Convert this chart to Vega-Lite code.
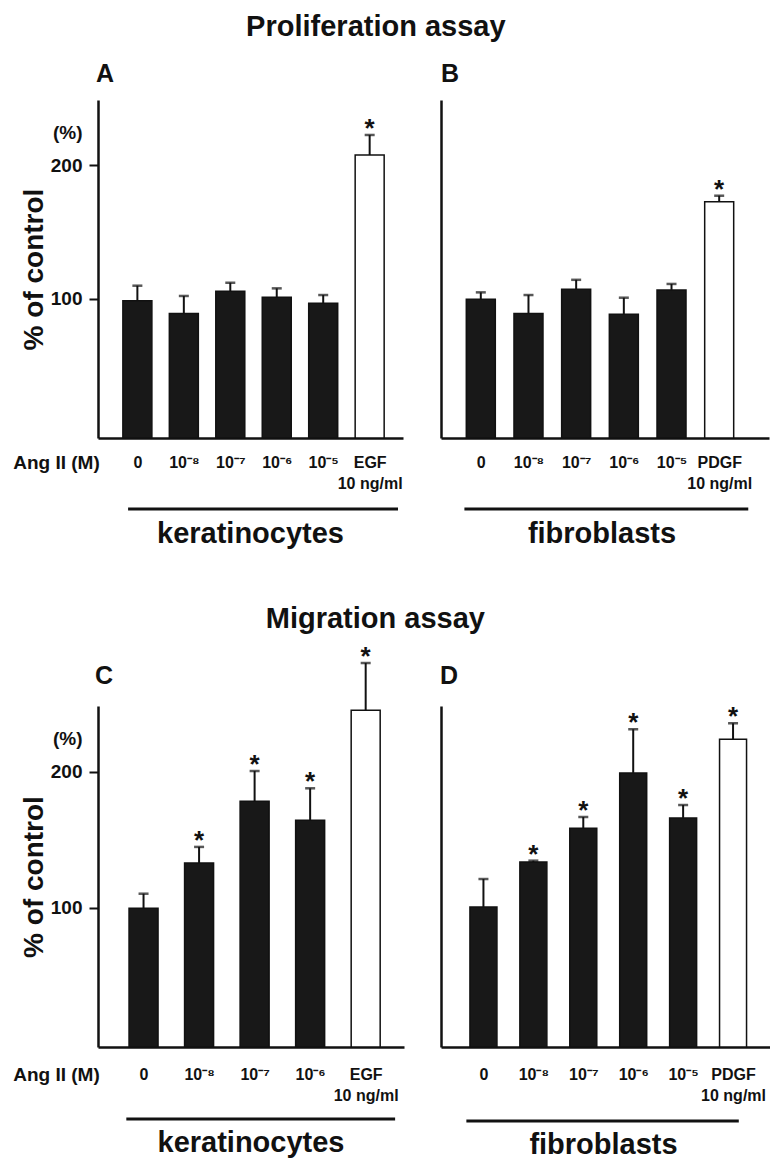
{
  "$schema": "https://vega.github.io/schema/vega-lite/v6.json",
  "padding": {"left": 12, "top": 12, "right": 0, "bottom": 0},
  "spacing": 56,
  "config": {
    "font": "Liberation Sans",
    "view": {"stroke": null},
    "axis": {"domainColor": "#111", "tickColor": "#111", "labelColor": "#111", "titleColor": "#111", "grid": false},
    "title": {"color": "#111"}
  },
  "datasets": {
    "A": [
      {"idx": 1, "value": 98.4, "err": 109.6, "kind": "dark", "star": ""},
      {"idx": 2, "value": 88.7, "err": 101.9, "kind": "dark", "star": ""},
      {"idx": 3, "value": 105.4, "err": 111.8, "kind": "dark", "star": ""},
      {"idx": 4, "value": 100.9, "err": 107.6, "kind": "dark", "star": ""},
      {"idx": 5, "value": 96.4, "err": 102.6, "kind": "dark", "star": ""},
      {"idx": 6, "value": 207.5, "err": 222.5, "kind": "open", "star": "*"}
    ],
    "B": [
      {"idx": 1, "value": 99.5, "err": 104.6, "kind": "dark", "star": ""},
      {"idx": 2, "value": 88.7, "err": 102.6, "kind": "dark", "star": ""},
      {"idx": 3, "value": 106.9, "err": 114.0, "kind": "dark", "star": ""},
      {"idx": 4, "value": 88.2, "err": 100.6, "kind": "dark", "star": ""},
      {"idx": 5, "value": 106.4, "err": 110.9, "kind": "dark", "star": ""},
      {"idx": 6, "value": 172.5, "err": 177.0, "kind": "open", "star": "*"}
    ],
    "C": [
      {"idx": 1, "value": 99.8, "err": 110.5, "kind": "dark", "star": ""},
      {"idx": 2, "value": 133.1, "err": 144.9, "kind": "dark", "star": "*"},
      {"idx": 3, "value": 178.5, "err": 200.7, "kind": "dark", "star": "*"},
      {"idx": 4, "value": 164.5, "err": 188.0, "kind": "dark", "star": "*"},
      {"idx": 5, "value": 245.4, "err": 280.1, "kind": "open", "star": "*"}
    ],
    "D": [
      {"idx": 1, "value": 100.7, "err": 121.3, "kind": "dark", "star": ""},
      {"idx": 2, "value": 133.8, "err": 134.8, "kind": "dark", "star": "*"},
      {"idx": 3, "value": 158.6, "err": 166.9, "kind": "dark", "star": "*"},
      {"idx": 4, "value": 199.3, "err": 231.4, "kind": "dark", "star": "*"},
      {"idx": 5, "value": 166.2, "err": 175.7, "kind": "dark", "star": "*"},
      {"idx": 6, "value": 224.0, "err": 235.8, "kind": "open", "star": "*"}
    ]
  },
  "vconcat": [
    {
      "title": {"text": "Proliferation assay", "fontSize": 29, "fontWeight": "bold", "anchor": "middle", "dx": -15, "offset": 20},
      "bounds": "flush",
      "spacing": 38,
      "hconcat": [
        {
          "width": 305, "height": 338,
          "title": {"text": "keratinocytes", "orient": "bottom", "frame": "group", "anchor": "middle", "offset": 9, "fontSize": 29, "fontWeight": "bold"},
          "layer": [
            {
              "data": {"name": "A"},
              "mark": {"type": "bar", "width": 29, "stroke": "#111", "strokeWidth": 1.5},
              "encoding": {
                "x": {"field": "idx", "type": "quantitative", "scale": {"domain": [0.26, 6.61], "nice": false, "zero": false},
                  "axis": {"values": [1, 2, 3, 4, 5, 6], "labelExpr": "datum.value == 6 ? ['EGF', '10 ng/ml'] : ['', '0', '10⁻⁸', '10⁻⁷', '10⁻⁶', '10⁻⁵'][datum.value]", "ticks": false, "tickSize": 0, "domainWidth": 2.5, "labelFontSize": 16, "labelFontWeight": "bold", "labelPadding": 16, "labelBaseline": "top", "labelLineHeight": 21, "labelOverlap": false, "labelFlush": false, "title": "Ang II (M)", "titleX": -42, "titleY": 15.5, "titleAlign": "center", "titleBaseline": "top", "titleAngle": 0, "titleFontSize": 19, "titleFontWeight": "bold"}},
                "y": {"field": "value", "type": "quantitative", "scale": {"domain": [-4.5, 248.7], "nice": false, "zero": false},
                  "axis": {"values": [100, 200, 224.7], "labelExpr": "datum.value > 210 ? '(%)' : datum.label", "tickOpacity": {"condition": {"test": "datum.value > 210", "value": 0}, "value": 1}, "tickSize": 9, "tickWidth": 2, "domainWidth": 2.5, "labelFontSize": 19, "labelFontWeight": "bold", "labelPadding": 7, "labelOverlap": false, "title": "% of control", "titleFontSize": 28, "titleFontWeight": "bold", "titlePadding": 2}},
                "y2": {"datum": -4.5},
                "fill": {"field": "kind", "type": "nominal", "scale": {"domain": ["dark", "open"], "range": ["#181818", "#ffffff"]}, "legend": null}
              }
            },
            {
              "data": {"name": "A"},
              "mark": {"type": "rule", "strokeWidth": 2, "color": "#111"},
              "encoding": {"x": {"field": "idx", "type": "quantitative"}, "y": {"field": "value", "type": "quantitative"}, "y2": {"field": "err"}}
            },
            {
              "data": {"name": "A"},
              "mark": {"type": "tick", "orient": "horizontal", "size": 10, "thickness": 2.5, "color": "#111"},
              "encoding": {"x": {"field": "idx", "type": "quantitative"}, "y": {"field": "err", "type": "quantitative"}}
            },
            {
              "data": {"name": "A"},
              "transform": [{"filter": "datum.star == '*'"}],
              "mark": {"type": "text", "fontSize": 26, "fontWeight": "bold", "baseline": "alphabetic", "dy": 2, "color": "#111"},
              "encoding": {"x": {"field": "idx", "type": "quantitative"}, "y": {"field": "err", "type": "quantitative"}, "text": {"field": "star"}}
            },
            {
              "data": {"values": [{"letter": "A"}]},
              "mark": {"type": "text", "fontSize": 25, "fontWeight": "bold", "align": "center", "baseline": "middle", "dx": 2, "color": "#111"},
              "encoding": {"x": {"datum": 0.26}, "y": {"datum": 268.5}, "text": {"field": "letter"}}
            },
            {
              "data": {"values": [{"group": "keratinocytes"}]},
              "mark": {"type": "rule", "strokeWidth": 3, "color": "#111"},
              "encoding": {"x": {"datum": 0.8}, "x2": {"datum": 6.61}, "y": {"datum": -57.7}}
            }
          ]
        },
        {
          "width": 328, "height": 338,
          "title": {"text": "fibroblasts", "orient": "bottom", "frame": "group", "anchor": "middle", "offset": 9, "dx": -3, "fontSize": 29, "fontWeight": "bold"},
          "layer": [
            {
              "data": {"name": "B"},
              "mark": {"type": "bar", "width": 29, "stroke": "#111", "strokeWidth": 1.5},
              "encoding": {
                "x": {"field": "idx", "type": "quantitative", "scale": {"domain": [0.27, 6.94], "nice": false, "zero": false},
                  "axis": {"values": [1, 2, 3, 4, 5, 6], "labelExpr": "datum.value == 6 ? ['PDGF', '10 ng/ml'] : ['', '0', '10⁻⁸', '10⁻⁷', '10⁻⁶', '10⁻⁵'][datum.value]", "ticks": false, "tickSize": 0, "domainWidth": 2.5, "labelFontSize": 16, "labelFontWeight": "bold", "labelPadding": 16, "labelBaseline": "top", "labelLineHeight": 21, "labelOverlap": false, "labelFlush": false, "title": null}},
                "y": {"field": "value", "type": "quantitative", "scale": {"domain": [-4.5, 248.7], "nice": false, "zero": false},
                  "axis": {"labels": false, "ticks": false, "domainWidth": 2.5, "title": null}},
                "y2": {"datum": -4.5},
                "fill": {"field": "kind", "type": "nominal", "scale": {"domain": ["dark", "open"], "range": ["#181818", "#ffffff"]}, "legend": null}
              }
            },
            {
              "data": {"name": "B"},
              "mark": {"type": "rule", "strokeWidth": 2, "color": "#111"},
              "encoding": {"x": {"field": "idx", "type": "quantitative"}, "y": {"field": "value", "type": "quantitative"}, "y2": {"field": "err"}}
            },
            {
              "data": {"name": "B"},
              "mark": {"type": "tick", "orient": "horizontal", "size": 10, "thickness": 2.5, "color": "#111"},
              "encoding": {"x": {"field": "idx", "type": "quantitative"}, "y": {"field": "err", "type": "quantitative"}}
            },
            {
              "data": {"name": "B"},
              "transform": [{"filter": "datum.star == '*'"}],
              "mark": {"type": "text", "fontSize": 26, "fontWeight": "bold", "baseline": "alphabetic", "dy": 2, "color": "#111"},
              "encoding": {"x": {"field": "idx", "type": "quantitative"}, "y": {"field": "err", "type": "quantitative"}, "text": {"field": "star"}}
            },
            {
              "data": {"values": [{"letter": "B"}]},
              "mark": {"type": "text", "fontSize": 25, "fontWeight": "bold", "align": "center", "baseline": "middle", "dx": 4, "color": "#111"},
              "encoding": {"x": {"datum": 0.27}, "y": {"datum": 268.5}, "text": {"field": "letter"}}
            },
            {
              "data": {"values": [{"group": "fibroblasts"}]},
              "mark": {"type": "rule", "strokeWidth": 3, "color": "#111"},
              "encoding": {"x": {"datum": 0.656}, "x2": {"datum": 6.61}, "y": {"datum": -57.7}}
            }
          ]
        }
      ]
    },
    {
      "title": {"text": "Migration assay", "fontSize": 29, "fontWeight": "bold", "anchor": "middle", "dx": -16, "offset": 10},
      "bounds": "flush",
      "spacing": 37,
      "hconcat": [
        {
          "width": 306, "height": 341,
          "title": {"text": "keratinocytes", "orient": "bottom", "frame": "group", "anchor": "middle", "offset": 9, "fontSize": 29, "fontWeight": "bold"},
          "layer": [
            {
              "data": {"name": "C"},
              "mark": {"type": "bar", "width": 29, "stroke": "#111", "strokeWidth": 1.5},
              "encoding": {
                "x": {"field": "idx", "type": "quantitative", "scale": {"domain": [0.27, 5.6], "nice": false, "zero": false},
                  "axis": {"values": [1, 2, 3, 4, 5], "labelExpr": "datum.value == 5 ? ['EGF', '10 ng/ml'] : ['', '0', '10⁻⁸', '10⁻⁷', '10⁻⁶'][datum.value]", "ticks": false, "tickSize": 0, "domainWidth": 2.5, "labelFontSize": 16, "labelFontWeight": "bold", "labelPadding": 19, "labelBaseline": "top", "labelLineHeight": 21, "labelOverlap": false, "labelFlush": false, "title": "Ang II (M)", "titleX": -42, "titleY": 18.3, "titleAlign": "center", "titleBaseline": "top", "titleAngle": 0, "titleFontSize": 19, "titleFontWeight": "bold"}},
                "y": {"field": "value", "type": "quantitative", "scale": {"domain": [-2.2, 248.5], "nice": false, "zero": false},
                  "axis": {"values": [100, 200, 224.7], "labelExpr": "datum.value > 210 ? '(%)' : datum.label", "tickOpacity": {"condition": {"test": "datum.value > 210", "value": 0}, "value": 1}, "tickSize": 9, "tickWidth": 2, "domainWidth": 2.5, "labelFontSize": 19, "labelFontWeight": "bold", "labelPadding": 7, "labelOverlap": false, "title": "% of control", "titleFontSize": 28, "titleFontWeight": "bold", "titlePadding": 2}},
                "y2": {"datum": -2.2},
                "fill": {"field": "kind", "type": "nominal", "scale": {"domain": ["dark", "open"], "range": ["#181818", "#ffffff"]}, "legend": null}
              }
            },
            {
              "data": {"name": "C"},
              "mark": {"type": "rule", "strokeWidth": 2, "color": "#111"},
              "encoding": {"x": {"field": "idx", "type": "quantitative"}, "y": {"field": "value", "type": "quantitative"}, "y2": {"field": "err"}}
            },
            {
              "data": {"name": "C"},
              "mark": {"type": "tick", "orient": "horizontal", "size": 10, "thickness": 2.5, "color": "#111"},
              "encoding": {"x": {"field": "idx", "type": "quantitative"}, "y": {"field": "err", "type": "quantitative"}}
            },
            {
              "data": {"name": "C"},
              "transform": [{"filter": "datum.star == '*'"}],
              "mark": {"type": "text", "fontSize": 26, "fontWeight": "bold", "baseline": "alphabetic", "dy": 2, "color": "#111"},
              "encoding": {"x": {"field": "idx", "type": "quantitative"}, "y": {"field": "err", "type": "quantitative"}, "text": {"field": "star"}}
            },
            {
              "data": {"values": [{"letter": "C"}]},
              "mark": {"type": "text", "fontSize": 25, "fontWeight": "bold", "align": "center", "baseline": "middle", "dx": 1, "color": "#111"},
              "encoding": {"x": {"datum": 0.27}, "y": {"datum": 270.6}, "text": {"field": "letter"}}
            },
            {
              "data": {"values": [{"group": "keratinocytes"}]},
              "mark": {"type": "rule", "strokeWidth": 3, "color": "#111"},
              "encoding": {"x": {"datum": 0.69}, "x2": {"datum": 5.53}, "y": {"datum": -55.1}}
            }
          ]
        },
        {
          "width": 329, "height": 341,
          "title": {"text": "fibroblasts", "orient": "bottom", "frame": "group", "anchor": "middle", "offset": 9, "dx": -2, "fontSize": 29, "fontWeight": "bold"},
          "layer": [
            {
              "data": {"name": "D"},
              "mark": {"type": "bar", "width": 27, "stroke": "#111", "strokeWidth": 1.5},
              "encoding": {
                "x": {"field": "idx", "type": "quantitative", "scale": {"domain": [0.25, 6.64], "nice": false, "zero": false},
                  "axis": {"values": [1, 2, 3, 4, 5, 6], "labelExpr": "datum.value == 6 ? ['PDGF', '10 ng/ml'] : ['', '0', '10⁻⁸', '10⁻⁷', '10⁻⁶', '10⁻⁵'][datum.value]", "ticks": false, "tickSize": 0, "domainWidth": 2.5, "labelFontSize": 16, "labelFontWeight": "bold", "labelPadding": 19, "labelBaseline": "top", "labelLineHeight": 21, "labelOverlap": false, "labelFlush": false, "title": null}},
                "y": {"field": "value", "type": "quantitative", "scale": {"domain": [-2.2, 248.5], "nice": false, "zero": false},
                  "axis": {"labels": false, "ticks": false, "domainWidth": 2.5, "title": null}},
                "y2": {"datum": -2.2},
                "fill": {"field": "kind", "type": "nominal", "scale": {"domain": ["dark", "open"], "range": ["#181818", "#ffffff"]}, "legend": null}
              }
            },
            {
              "data": {"name": "D"},
              "mark": {"type": "rule", "strokeWidth": 2, "color": "#111"},
              "encoding": {"x": {"field": "idx", "type": "quantitative"}, "y": {"field": "value", "type": "quantitative"}, "y2": {"field": "err"}}
            },
            {
              "data": {"name": "D"},
              "mark": {"type": "tick", "orient": "horizontal", "size": 10, "thickness": 2.5, "color": "#111"},
              "encoding": {"x": {"field": "idx", "type": "quantitative"}, "y": {"field": "err", "type": "quantitative"}}
            },
            {
              "data": {"name": "D"},
              "transform": [{"filter": "datum.star == '*'"}],
              "mark": {"type": "text", "fontSize": 26, "fontWeight": "bold", "baseline": "alphabetic", "dy": 2, "color": "#111"},
              "encoding": {"x": {"field": "idx", "type": "quantitative"}, "y": {"field": "err", "type": "quantitative"}, "text": {"field": "star"}}
            },
            {
              "data": {"values": [{"letter": "D"}]},
              "mark": {"type": "text", "fontSize": 25, "fontWeight": "bold", "align": "center", "baseline": "middle", "dx": 3, "color": "#111"},
              "encoding": {"x": {"datum": 0.25}, "y": {"datum": 270.6}, "text": {"field": "letter"}}
            },
            {
              "data": {"values": [{"group": "fibroblasts"}]},
              "mark": {"type": "rule", "strokeWidth": 3, "color": "#111"},
              "encoding": {"x": {"datum": 0.658}, "x2": {"datum": 6.115}, "y": {"datum": -56.6}}
            }
          ]
        }
      ]
    }
  ]
}
